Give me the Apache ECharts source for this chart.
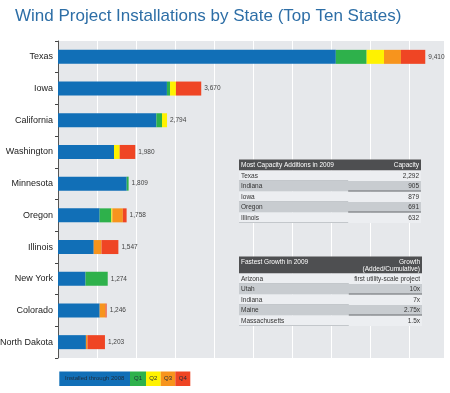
<!DOCTYPE html>
<html><head><meta charset="utf-8">
<script src="https://cdn.jsdelivr.net/npm/echarts@6/dist/echarts.min.js"></script>
<style>html,body{margin:0;padding:0;background:#fff}#c{width:450px;height:393px}</style>
</head><body><div id="c"></div>
<script>
var states = ['Texas','Iowa','California','Washington','Minnesota','Oregon','Illinois','New York','Colorado','North Dakota'];
var through2008 = [7118, 2791, 2520, 1435, 1760, 1067, 915, 705, 1068, 715];
var q1 = [790, 80, 144, 0, 49, 300, 0, 569, 0, 0];
var q2 = [444, 150, 130, 145, 0, 25, 0, 0, 0, 0];
var q3 = [435, 0, 0, 0, 0, 270, 200, 0, 150, 40];
var q4 = [623, 649, 0, 400, 0, 96, 432, 0, 28, 448];
var totals = [9410, 3670, 2794, 1980, 1809, 1758, 1547, 1274, 1246, 1203];
var seriesNames = ['Installed through 2008','Q1','Q2','Q3','Q4'];
var colors = ['#116fb7','#2eb14b','#fff200','#f7941d','#ef4524'];

var t1Header = ['Most Capacity Additions in 2009','Capacity'];
var t1Names = ['Texas','Indiana','Iowa','Oregon','Illinois'];
var t1Vals = ['2,292','905','879','691','632'];
var t2Header = ['Fastest Growth in 2009','Growth','(Added/Cumulative)'];
var t2Names = ['Arizona','Utah','Indiana','Maine','Massachusetts'];
var t2Vals = ['first utility-scale project','10x','7x','2.75x','1.5x'];

var FONT = 'Liberation Sans';
var graphics = [];
function txt(x, y, s, color, align, valign) {
  return {type:'text', x:x, y:y, z:100, style:{text:s, fill:color, font:'6.5px ' + FONT, align:align || 'left', verticalAlign:valign || 'middle'}};
}
function table(x, y, w, headH, rowH, header, names, vals) {
  graphics.push({type:'rect', z:90, shape:{x:x, y:y, width:w, height:headH}, style:{fill:'#4e4f51'}});
  if (header.length > 2) {
    graphics.push(txt(x+2, y+2.5, header[0], '#fff', 'left', 'top'));
    graphics.push(txt(x+w-2, y+2.5, header[1], '#fff', 'right', 'top'));
    graphics.push(txt(x+w-2, y+9.5, header[2], '#fff', 'right', 'top'));
  } else {
    graphics.push(txt(x+2, y+headH/2, header[0], '#fff', 'left', 'middle'));
    graphics.push(txt(x+w-2, y+headH/2, header[1], '#fff', 'right', 'middle'));
  }
  var split = x + w*0.6;
  for (var i=0;i<names.length;i++){
    var ry = y + headH + i*rowH;
    var odd = i%2===1;
    graphics.push({type:'rect', z:90, shape:{x:x, y:ry, width:w, height:rowH}, style:{fill: odd?'#c8ccd0':'#eceef1'}});
    if (odd) {
      graphics.push({type:'line', z:95, shape:{x1:split, y1:ry+rowH-0.5, x2:x+w, y2:ry+rowH-0.5}, style:{stroke:'#6a6d70', lineWidth:1}});
    } else {
      graphics.push({type:'line', z:95, shape:{x1:x, y1:ry+rowH-0.5, x2:split, y2:ry+rowH-0.5}, style:{stroke:'#c3c7cb', lineWidth:1}});
    }
    graphics.push(txt(x+2, ry+rowH/2, names[i], '#333', 'left', 'middle'));
    graphics.push(txt(x+w-2, ry+rowH/2, vals[i], '#333', 'right', 'middle'));
  }
}
table(239, 159.5, 182, 11, 10.5, t1Header, t1Names, t1Vals);
table(239, 256.5, 183, 17, 10.5, t2Header, t2Names, t2Vals);

// legend
var legX = [59.3, 130, 146, 160.7, 175.3, 190.3];
for (var k=0;k<seriesNames.length;k++){
  graphics.push({type:'rect', z:90, shape:{x:legX[k], y:371.5, width:legX[k+1]-legX[k], height:14.5}, style:{fill:colors[k]}});
  graphics.push({type:'text', z:100, x:(legX[k]+legX[k+1])/2, y:378.8, style:{text:seriesNames[k], fill:'#1d2b3a', font:'6px '+FONT, align:'center', verticalAlign:'middle'}});
}

var stacks = [through2008, q1, q2, q3, q4];
var series = stacks.map(function(arr, idx){
  var s = {name:seriesNames[idx], type:'bar', stack:'all', data:arr, barWidth:14,
    itemStyle:{color:colors[idx]}, silent:true, animation:false};
  if (idx === 4) {
    s.label = {show:true, position:'right', distance:3, fontSize:6.5, color:'#444', fontFamily:FONT,
      formatter:function(p){ return totals[p.dataIndex].toLocaleString('en-US'); }};
  }
  return s;
});

var chart = echarts.init(document.getElementById('c'), null, {renderer:'canvas'});
chart.setOption({
  animation:false,
  title:{text:'Wind Project Installations by State (Top Ten States)', left:10, top:3,
    textStyle:{fontSize:17, fontWeight:'normal', color:'#2d6ea6', fontFamily:FONT}},
  grid:{left:58, top:41, width:386, height:317, show:true, backgroundColor:'#e6e8eb', borderWidth:0,
    containLabel:false, outerBoundsMode:'none'},
  xAxis:{type:'value', min:0, max:9890, interval:1000, axisLabel:{show:false}, axisLine:{show:false}, axisTick:{show:false},
    splitLine:{show:true, lineStyle:{color:'#ffffff', width:1}}},
  yAxis:{type:'category', data:states, inverse:true,
    axisLine:{show:true, lineStyle:{color:'#555', width:1}},
    axisTick:{show:true, length:3, lineStyle:{color:'#444'}},
    axisLabel:{fontSize:9, color:'#222', margin:5, fontFamily:FONT}},
  series:series,
  graphic:graphics
});
</script></body></html>
